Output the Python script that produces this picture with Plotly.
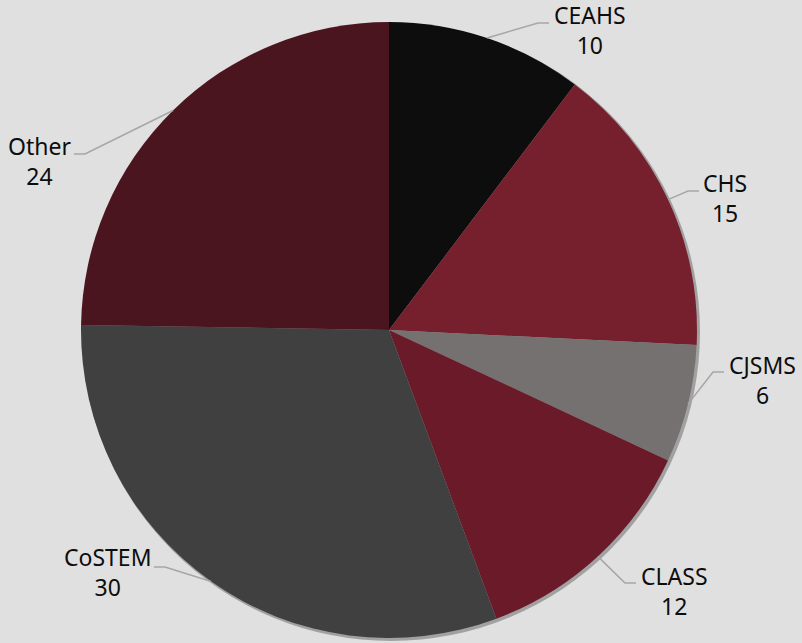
import math
import plotly.graph_objects as go

# ---- data ----
labels = ["CEAHS", "CHS", "CJSMS", "CLASS", "CoSTEM", "Other"]
values = [10, 15, 6, 12, 30, 24]
colors = ["#0d0d0d", "#76202e", "#767171", "#6a1a29", "#404040", "#4b1520"]

# ---- layout / style (pixel space) ----
W, H = 802, 643
CX, CY, R = 389, 330, 308
# label elbow points and text centres (manual label placement, like the original)
elbows = [(538, 23), (688, 191), (713, 372), (625, 583), (165, 567), (85, 154)]
sides = [1, 1, 1, 1, -1, -1]
text_centres = [(590, 30), (725, 198), (762, 380), (674, 591), (108, 572), (39, 161)]
BG = "#e0e0e0"
FONT = "Noto Sans"


def dom(cx, cy, r):
    return dict(x=[(cx - r) / W, (cx + r) / W], y=[1 - (cy + r) / H, 1 - (cy - r) / H])


fig = go.Figure()
# soft shadow behind the pie
fig.add_trace(go.Pie(
    values=[sum(values)], marker=dict(colors=["rgba(0,0,0,0.28)"], line=dict(width=0)),
    textinfo="none", hoverinfo="skip", showlegend=False, sort=False,
    domain=dom(CX + 2, CY + 2, R + 1),
))
fig.add_trace(go.Pie(
    labels=labels, values=values, sort=False, direction="clockwise", rotation=0,
    marker=dict(colors=colors, line=dict(width=0)),
    textinfo="none", hoverinfo="label+value", showlegend=False,
    domain=dom(CX, CY, R),
))

total = sum(values)
cum = 0
shapes, annotations = [], []
for lab, val, (ex, ey), side, (tx, ty) in zip(labels, values, elbows, sides, text_centres):
    mid = (cum + val / 2) / total * 2 * math.pi
    cum += val
    px = CX + R * math.sin(mid)
    py = CY - R * math.cos(mid)
    hx = ex + side * 11
    shapes.append(dict(type="path", xref="x", yref="y",
                       path=f"M {px:.1f} {py:.1f} L {ex} {ey} L {hx} {ey}",
                       line=dict(color="#a6a6a6", width=1.5)))
    annotations.append(dict(x=tx, y=ty, xref="x", yref="y", text=f"{lab}<br>{val}",
                            showarrow=False, align="center", xanchor="center", yanchor="middle",
                            font=dict(family=FONT, size=23, color="#0d0d0d")))

fig.update_layout(
    width=W, height=H, margin=dict(l=0, r=0, t=0, b=0),
    paper_bgcolor=BG, plot_bgcolor="rgba(0,0,0,0)",
    xaxis=dict(range=[0, W], visible=False, fixedrange=True),
    yaxis=dict(range=[H, 0], visible=False, fixedrange=True),
    shapes=shapes, annotations=annotations,
)
fig.write_html("out.html", config={"displayModeBar": False},
               post_script="document.body.style.margin='0';")
